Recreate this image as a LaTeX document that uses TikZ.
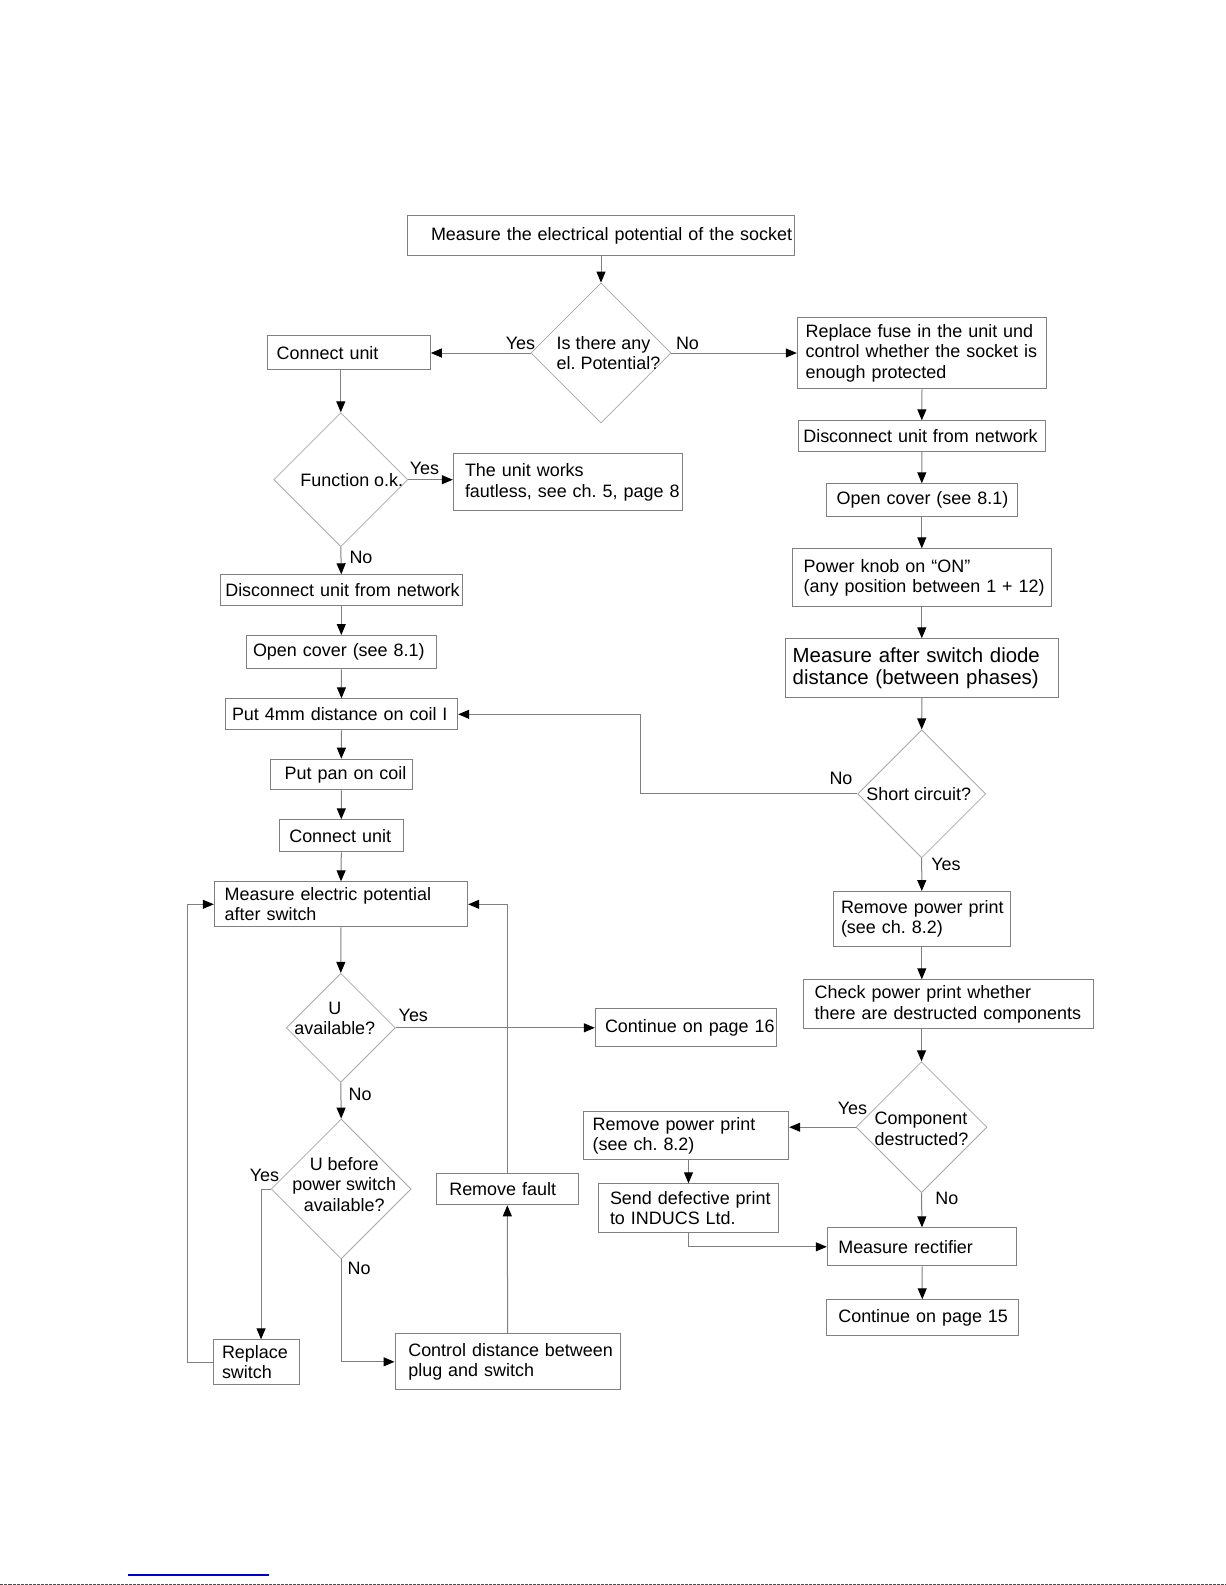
\documentclass[tikz,border=0pt]{standalone}
\usepackage{fontspec}
\setmainfont{Liberation Sans}
\usetikzlibrary{shapes.geometric,arrows.meta}
\definecolor{boxgray}{gray}{0.5}
\definecolor{diagray}{gray}{0.66}
\definecolor{linegray}{gray}{0.5}
\newcommand\flowfont{\fontsize{17.95}{20.3}\selectfont}
\newcommand\flowbig{\fontsize{20.4}{22.7}\selectfont}
\frenchspacing
\tikzset{
  box/.style={draw=boxgray, line width=1pt, anchor=north west, align=left, inner ysep=0pt},
  decision/.style={diamond, draw=diagray, line width=0.8pt, inner sep=0pt},
  arr/.style={draw=linegray, line width=1pt, -{Triangle[length=11pt,width=9pt,color=black]}},
}

\begin{document}
\begin{tikzpicture}[x=1pt,y=-1pt,font=\flowfont]
  \path[fill=white] (0,0) rectangle (1225,1585);

  % Start
  \node[box, text width=339.6pt, inner xsep=23.7pt, minimum height=40pt] (top) at (406.3,215) {\mbox{Measure the electrical potential of the socket}};
  \node[decision, minimum width=140pt, minimum height=140pt,
        label={[anchor=center, align=left, xshift=7.5pt]center:{Is there any\\el. Potential?}}] (pot) at (600.5,353) {};

  % Right column
  \node[box, text width=232.6pt, inner xsep=8.4pt, minimum height=71pt] (fuse) at (796.3,317.3) {\mbox{Replace fuse in the unit und}\\\mbox{control whether the socket is}\\\mbox{enough protected}};
  \node[box, text width=237pt, inner xsep=5pt, minimum height=30.7pt] (discR) at (797.3,420.3) {\mbox{Disconnect unit from network}};
  \node[box, text width=170.2pt, inner xsep=10.4pt, minimum height=32.7pt] (openR) at (825.3,483.3) {\mbox{Open cover (see 8.1)}};
  \node[box, text width=236.2pt, inner xsep=11.4pt, minimum height=58pt] (knob) at (791.3,548.3) {\mbox{Power knob on “ON”}\\\mbox{(any position between 1 + 12)}};
  \node[box, font=\flowbig, text width=258.2pt, inner xsep=7.4pt, minimum height=58.7pt] (diode) at (784.3,638.3) {Measure after switch diode\\distance (between phases)};
  \node[decision, minimum width=128pt, minimum height=128pt,
        label={[anchor=center, xshift=-3pt]center:Short circuit?}] (short) at (921.2,793.8) {};
  \node[box, text width=161.6pt, inner xsep=7.7pt, minimum height=55.3pt] (printR) at (832.3,891) {\mbox{Remove power print}\\\mbox{(see ch. 8.2)}};
  \node[box, text width=267.2pt, inner xsep=11.4pt, minimum height=49pt] (check) at (802.3,979.3) {\mbox{Check power print whether}\\\mbox{there are destructed components}};
  \node[decision, minimum width=131pt, minimum height=131pt,
        label={[anchor=center, align=left, yshift=-1.5pt]center:{Component\\destructed?}}] (comp) at (921,1127.2) {};
  \node[box, text width=186.6pt, inner xsep=9.4pt, minimum height=48pt] (printM) at (582.3,1111.3) {Remove power print\\(see ch. 8.2)};
  \node[box, text width=157pt, inner xsep=11.7pt, minimum height=48.4pt] (send) at (597.3,1183.3) {\mbox{Send defective print}\\\mbox{to INDUCS Ltd.}};
  \node[box, text width=167.4pt, inner xsep=11pt, minimum height=38pt] (rect) at (826.3,1227.3) {Measure rectifier};
  \node[box, text width=168pt, inner xsep=12pt, minimum height=36pt] (cont15) at (825.3,1299.3) {\mbox{Continue on page 15}};

  % Left column
  \node[box, text width=144.2pt, inner xsep=9.4pt, minimum height=34pt] (connA) at (266.3,335.3) {Connect unit};
  \node[decision, minimum width=134pt, minimum height=134pt,
        label={[anchor=center, xshift=11pt]center:Function o.k.}] (func) at (340.3,479.7) {};
  \node[box, text width=205.6pt, inner xsep=11.7pt, minimum height=57pt] (works) at (452.3,453.3) {\mbox{The unit works}\\\mbox{fautless, see ch. 5, page 8}};
  \node[box, text width=232pt, inner xsep=5pt, minimum height=30.7pt] (discL) at (219.3,574.3) {\mbox{Disconnect unit from network}};
  \node[box, text width=176.6pt, inner xsep=6.7pt, minimum height=33.3pt] (openL) at (245.3,635) {\mbox{Open cover (see 8.1)}};
  \node[box, text width=219pt, inner xsep=6.7pt, minimum height=31pt] (coil) at (224.3,698.3) {\mbox{Put 4mm distance on coil I}};
  \node[box, text width=113.2pt, inner xsep=14.4pt, minimum height=30.6pt] (pan) at (269.3,758.7) {\mbox{Put pan on coil}};
  \node[box, text width=104pt, inner xsep=10pt, minimum height=32pt] (connB) at (278.3,819.3) {\mbox{Connect unit}};
  \node[box, text width=232.6pt, inner xsep=10.4pt, minimum height=45pt] (measU) at (213.3,881.3) {Measure electric potential\\after switch};
  \node[decision, minimum width=109pt, minimum height=109pt,
        label={[anchor=center, align=center, xshift=-6pt, yshift=9.5pt]center:{U\\available?}}] (uav) at (340.3,1027.8) {};
  \node[box, text width=161.6pt, inner xsep=9.7pt, minimum height=37.7pt] (cont16) at (594.3,1008.3) {\mbox{Continue on page 16}};
  \node[decision, minimum width=140pt, minimum height=140pt,
        label={[anchor=center, align=center, xshift=3pt, yshift=4.7pt]center:{U before\\power switch\\available?}}] (ubef) at (340.7,1189) {};
  \node[box, text width=116pt, inner xsep=13pt, minimum height=31pt] (fault) at (435.3,1173.3) {Remove fault};
  \node[box, text width=68.7pt, inner xsep=9pt, minimum height=44.7pt] (repl) at (212,1339.3) {\mbox{Replace}\\\mbox{switch}};
  \node[box, text width=198.7pt, inner xsep=13.3pt, minimum height=56pt] (ctrl) at (394,1333.3) {\mbox{Control distance between}\\\mbox{plug and switch}};

  % Yes / No
  \node (yesA) at (520,343) {Yes};
  \node (noA) at (687,343) {No};
  \node (yesB) at (424,468.7) {Yes};
  \node (noB) at (360.5,557.3) {No};
  \node (noC) at (840.5,778.3) {No};
  \node (yesC) at (945.5,864.3) {Yes};
  \node (yesD) at (852,1108.3) {Yes};
  \node (noD) at (946.3,1198.3) {No};
  \node (yesE) at (412.8,1015) {Yes};
  \node (noE) at (359.7,1094.3) {No};
  \node (yesF) at (264,1175.7) {Yes};
  \node (noF) at (358.7,1268.3) {No};

  % Connectors
  \draw[arr] (pot.north |- top.south) -- (pot.north);
  \draw[arr] (pot.west) -- (pot.west -| connA.east);
  \draw[arr] (pot.east) -- (pot.east -| fuse.west);
  \draw[arr] (fuse.south) -- (discR.north);
  \draw[arr] (discR.south) -- (openR.north);
  \draw[arr] (openR.south) -- (knob.north);
  \draw[arr] (knob.south) -- (diode.north);
  \draw[arr] (diode.south) -- (short.north);
  \draw[arr] (short.west) -- ++(-217,0) |- (coil.east);
  \draw[arr] (short.south) -- (printR.north);
  \draw[arr] (printR.south) -- (printR.south |- check.north);
  \draw[arr] (comp.north |- check.south) -- (comp.north);
  \draw[arr] (comp.west) -- (comp.west -| printM.east);
  \draw[arr] (send.north |- printM.south) -- (send.north);
  \draw[arr] (send.south) |- (rect.west);
  \draw[arr] (comp.south) -- (rect.north);
  \draw[arr] (rect.south) -- (cont15.north);

  \draw[arr] (func.north |- connA.south) -- (func.north);
  \draw[arr] (func.east) -- (func.east -| works.west);
  \draw[arr] (func.south) -- (discL.north);
  \draw[arr] (discL.south) -- (openL.north);
  \draw[arr] (openL.south) -- (coil.north);
  \draw[arr] (coil.south) -- (pan.north);
  \draw[arr] (pan.south) -- (connB.north);
  \draw[arr] (connB.south) -- (measU.north);
  \draw[arr] (measU.south) -- (uav.north);
  \draw[arr] (uav.east) -- (uav.east -| cont16.west);
  \draw[arr] (uav.south) -- (ubef.north);
  \draw[arr] (ubef.west) -| ([xshift=4.7pt]repl.north);
  \draw[arr] (ubef.south) |- (ctrl.west);
  \draw[arr] (repl.west) -- ++(-25.3,0) |- (measU.west);
  \draw[arr] (ctrl.north) -- (fault.south);
  \draw[arr] (fault.north) |- (measU.east);

  % page bottom
  \draw[blue!80!black, line width=1.5pt] (127,1575) -- (268,1575);
  \draw[black!70, line width=1pt, dash pattern=on 3pt off 1pt] (0,1584.3) -- (1225,1584.3);
\end{tikzpicture}
\end{document}
